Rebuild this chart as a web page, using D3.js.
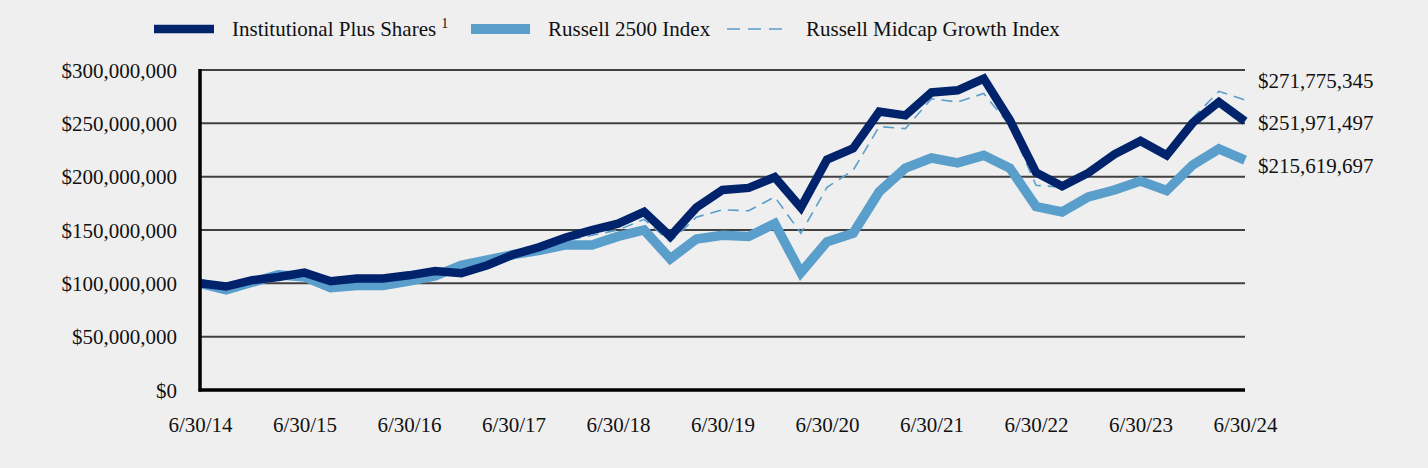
<!DOCTYPE html>
<html>
<head>
<meta charset="utf-8">
<script src="https://cdn.jsdelivr.net/npm/d3@7"></script>
<style>
  html, body { margin: 0; padding: 0; background: #efefef; }
  svg { display: block; }
  text { font-family: "Liberation Serif", "Times New Roman", serif; fill: #111; }
</style>
</head>
<body>
<svg id="chart" width="1428" height="468"></svg>
<script>
// ---- data (quarter-end values, 6/30/14 .. 6/30/24) ----
const seriesNames = ["Institutional Plus Shares", "Russell 2500 Index", "Russell Midcap Growth Index"];
const tickLabels = ["6/30/14","6/30/15","6/30/16","6/30/17","6/30/18","6/30/19","6/30/20","6/30/21","6/30/22","6/30/23","6/30/24"];
const instPlus = [100,97,103,106,110,102,104.5,104.5,107.5,111.5,109.5,117,127,134,143,150,156,167,144,171,187.5,189.5,199.5,171,216,226.5,261,257.5,279,281,292,253,204,191,203.5,221,233.5,220,250.5,270,251.971497];
const russell2500 = [100,94,101,108,106,96,98,98,102,107,117,122,127,131,136,136,144,150,123,141.5,145,144,156,110,139,147,186,208,217.5,213,220,208,172,167,181,187.5,196,187,211,226,215.619697];
const midcapGrowth = [100,95,102,108,108,102,103,103,106,110,112,119,126,133,140,145,150,160,139,162,169,168,181,147,190,206,247,245,273,270,278,248,192,190,203,220,232,219,255,280,271.775345];
const endLabels = ["$271,775,345", "$251,971,497", "$215,619,697"];
const yTicks = [0, 50, 100, 150, 200, 250, 300];

(function () {
const colors = { inst: "#00236c", r2500: "#5a9ecb", mid: "#5a9ecb" };

const svg = d3.select("#chart");
const W = 1428, H = 468;
const mLeft = 200, mRight = 1245, mTop = 70, mBottom = 390;

svg.append("rect").attr("width", W).attr("height", H).attr("fill", "#efefef");

const x = d3.scaleLinear().domain([0, instPlus.length - 1]).range([mLeft, mRight]);
const y = d3.scaleLinear().domain([0, 300e6]).range([mBottom, mTop]);

// gridlines
svg.append("g").selectAll("line").data(yTicks.filter(d => d > 0)).join("line")
  .attr("x1", mLeft).attr("x2", mRight)
  .attr("y1", d => y(d * 1e6)).attr("y2", d => y(d * 1e6))
  .attr("stroke", "#404040").attr("stroke-width", 2);

// y axis
const yAxis = d3.axisLeft(y).tickValues(yTicks.map(d => d * 1e6)).tickFormat(d3.format("$,")).tickSize(0).tickPadding(23);
const gy = svg.append("g").attr("transform", `translate(${mLeft},0)`).call(yAxis);
gy.select(".domain").remove();
gy.selectAll("text").attr("font-size", 21).attr("font-family", "Liberation Serif, serif").attr("fill", "#111").attr("dy", "0.34em");

// x axis
const xAxis = d3.axisBottom(x).tickValues(tickLabels.map((d, i) => i * 4)).tickFormat((d, i) => tickLabels[i]).tickSize(0).tickPadding(27);
const gx = svg.append("g").attr("transform", `translate(0,${mBottom})`).call(xAxis);
gx.select(".domain").remove();
gx.selectAll("text").attr("font-size", 21).attr("font-family", "Liberation Serif, serif").attr("fill", "#111");

// lines
const line = d3.line().x((d, i) => x(i)).y(d => y(d * 1e6));
svg.append("path").datum(russell2500).attr("d", line).attr("fill", "none")
  .attr("stroke", colors.r2500).attr("stroke-width", 9.5).attr("stroke-linejoin", "miter");
svg.append("path").datum(midcapGrowth).attr("d", line).attr("fill", "none")
  .attr("stroke", colors.mid).attr("stroke-width", 1.6).attr("stroke-dasharray", "11,7");
svg.append("path").datum(instPlus).attr("d", line).attr("fill", "none")
  .attr("stroke", colors.inst).attr("stroke-width", 8.5).attr("stroke-linejoin", "miter");

// axes lines (black)
svg.append("line").attr("x1", mLeft).attr("x2", mLeft).attr("y1", mTop - 1).attr("y2", mBottom + 1.5)
  .attr("stroke", "#000").attr("stroke-width", 3.5);
svg.append("line").attr("x1", mLeft - 1.5).attr("x2", mRight).attr("y1", mBottom).attr("y2", mBottom)
  .attr("stroke", "#000").attr("stroke-width", 3.5);

// end labels
const lastVals = [midcapGrowth[midcapGrowth.length - 1], instPlus[instPlus.length - 1], russell2500[russell2500.length - 1]];
const midY = y(lastVals[1] * 1e6) + 2;
const labelYs = [midY - 42, midY, midY + 43];
svg.append("g").selectAll("text").data(endLabels).join("text")
  .attr("x", mRight + 13).attr("y", (d, i) => labelYs[i]).attr("dy", "0.32em")
  .attr("font-size", 21).text(d => d);

// legend
const legY = 29;
const leg = svg.append("g");
leg.append("line").attr("x1", 154).attr("x2", 214).attr("y1", legY).attr("y2", legY)
  .attr("stroke", colors.inst).attr("stroke-width", 8.5);
const t1 = leg.append("text").attr("x", 232).attr("y", legY).attr("dy", "0.32em").attr("font-size", 21).text(seriesNames[0]);
t1.append("tspan").attr("dx", 5).attr("dy", "-0.55em").attr("font-size", 14).text("1");
leg.append("line").attr("x1", 471).attr("x2", 530).attr("y1", legY).attr("y2", legY)
  .attr("stroke", colors.r2500).attr("stroke-width", 10);
leg.append("text").attr("x", 548).attr("y", legY).attr("dy", "0.32em").attr("font-size", 21).text(seriesNames[1]);
leg.append("line").attr("x1", 727).attr("x2", 786).attr("y1", legY).attr("y2", legY)
  .attr("stroke", colors.mid).attr("stroke-width", 1.6).attr("stroke-dasharray", "13,8");
leg.append("text").attr("x", 806).attr("y", legY).attr("dy", "0.32em").attr("font-size", 21).text(seriesNames[2]);
})();
</script>
</body>
</html>
